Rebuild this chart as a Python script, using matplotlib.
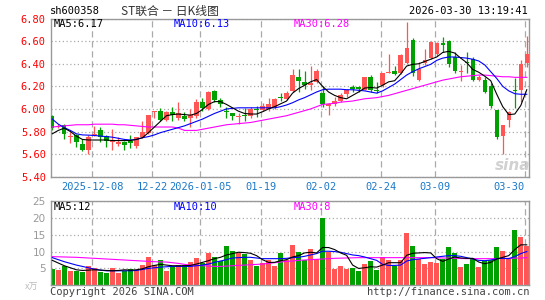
import numpy as np
import matplotlib.pyplot as plt

# precios diarios (ST联合, sh600358)
open_ = [5.94, 5.84, 5.86, 5.75, 5.77, 5.69, 5.64, 5.77, 5.81, 5.76,
         5.71, 5.69, 5.71, 5.72, 5.67, 5.75, 5.79, 5.97, 5.98, 5.90,
         5.97, 5.92, 5.94, 5.92, 5.94, 6.06, 6.00, 6.16, 6.08, 5.98,
         5.96, 5.93, 5.95, 5.94, 6.00, 5.99, 6.00, 6.02, 6.11, 6.09,
         6.16, 6.28, 6.24, 6.21, 6.24, 6.14, 6.03, 6.04, 6.07, 6.13,
         6.19, 6.19, 6.17, 6.28, 6.17, 6.21, 6.32, 6.34, 6.32, 6.41,
         6.61, 6.26, 6.41, 6.45, 6.49, 6.58, 6.60, 6.46, 6.33, 6.42,
         6.44, 6.26, 6.26, 6.20, 5.99, 5.76, 5.90, 6.17, 6.17, 6.41]
high = [5.95, 5.87, 5.87, 5.80, 5.78, 5.73, 5.77, 5.85, 5.84, 5.77,
        5.82, 5.75, 5.72, 5.77, 5.75, 5.89, 5.95, 5.98, 6.01, 5.98,
        6.02, 6.06, 5.97, 6.00, 6.09, 6.10, 6.16, 6.17, 6.10, 6.02,
        5.96, 5.96, 6.01, 6.02, 6.03, 6.05, 6.10, 6.10, 6.14, 6.16,
        6.35, 6.35, 6.34, 6.38, 6.35, 6.20, 6.05, 6.11, 6.14, 6.18,
        6.21, 6.20, 6.28, 6.30, 6.24, 6.32, 6.49, 6.38, 6.49, 6.77,
        6.63, 6.42, 6.53, 6.60, 6.59, 6.64, 6.61, 6.50, 6.39, 6.50,
        6.46, 6.30, 6.28, 6.23, 5.99, 5.86, 5.98, 6.27, 6.43, 6.65]
low = [5.81, 5.83, 5.73, 5.70, 5.66, 5.63, 5.60, 5.76, 5.71, 5.66,
       5.64, 5.67, 5.64, 5.65, 5.65, 5.74, 5.78, 5.92, 5.89, 5.89,
       5.89, 5.90, 5.89, 5.84, 5.92, 5.98, 5.99, 6.06, 6.02, 5.92,
       5.90, 5.87, 5.89, 5.92, 5.93, 5.98, 5.98, 6.00, 6.07, 6.08,
       6.15, 6.15, 6.18, 6.17, 6.23, 6.02, 5.95, 6.03, 6.06, 6.11,
       6.15, 6.15, 6.17, 6.15, 6.14, 6.19, 6.32, 6.30, 6.31, 6.40,
       6.29, 6.25, 6.39, 6.44, 6.47, 6.50, 6.37, 6.32, 6.25, 6.32,
       6.25, 6.25, 6.14, 6.01, 5.73, 5.60, 5.84, 6.01, 6.06, 6.37]
close = [5.83, 5.85, 5.78, 5.76, 5.71, 5.64, 5.75, 5.78, 5.75, 5.72,
         5.72, 5.71, 5.68, 5.70, 5.75, 5.80, 5.95, 5.98, 5.90, 5.97,
         5.95, 5.96, 5.91, 5.95, 6.06, 6.01, 6.15, 6.08, 6.04, 5.97,
         5.94, 5.94, 5.94, 6.00, 5.99, 6.03, 6.04, 6.09, 6.10, 6.14,
         6.30, 6.25, 6.21, 6.23, 6.34, 6.04, 6.04, 6.07, 6.12, 6.17,
         6.18, 6.18, 6.28, 6.17, 6.16, 6.32, 6.33, 6.31, 6.48, 6.54,
         6.32, 6.35, 6.43, 6.59, 6.58, 6.57, 6.40, 6.34, 6.34, 6.41,
         6.26, 6.28, 6.15, 6.03, 5.75, 5.86, 5.97, 6.16, 6.40, 6.49]

ma5 = [5.78, 5.81, 5.83, 5.80, 5.76, 5.73, 5.725, 5.725, 5.725, 5.725,
       5.72, 5.72, 5.72, 5.72, 5.73, 5.745, 5.79, 5.84, 5.89, 5.94,
       5.95, 5.955, 5.95, 5.945, 5.96, 5.995, 6.04, 6.065, 6.065, 6.04,
       6.01, 5.98, 5.96, 5.955, 5.955, 5.975, 6.00, 6.02, 6.045, 6.07,
       6.14, 6.18, 6.21, 6.24, 6.26, 6.20, 6.15, 6.12, 6.10, 6.09,
       6.12, 6.15, 6.185, 6.19, 6.185, 6.21, 6.24, 6.25, 6.31, 6.38,
       6.395, 6.40, 6.42, 6.44, 6.46, 6.50, 6.51, 6.495, 6.45, 6.41,
       6.35, 6.325, 6.29, 6.25, 6.13, 6.02, 5.95, 5.955, 6.03, 6.17]
ma10 = [5.91, 5.865, 5.835, 5.81, 5.78, 5.77, 5.768, 5.765, 5.76, 5.755,
        5.75, 5.74, 5.73, 5.725, 5.73, 5.745, 5.755, 5.77, 5.79, 5.805,
        5.82, 5.835, 5.85, 5.87, 5.89, 5.91, 5.935, 5.96, 5.98, 6.00,
        6.005, 6.01, 6.01, 6.01, 6.01, 6.01, 6.01, 6.01, 6.02, 6.035,
        6.055, 6.08, 6.10, 6.125, 6.15, 6.17, 6.175, 6.175, 6.175, 6.17,
        6.17, 6.165, 6.16, 6.15, 6.14, 6.16, 6.19, 6.22, 6.26, 6.30,
        6.33, 6.355, 6.375, 6.395, 6.43, 6.45, 6.46, 6.46, 6.455, 6.45,
        6.44, 6.425, 6.39, 6.33, 6.27, 6.20, 6.16, 6.135, 6.13, 6.13]
ma30 = [5.84, 5.845, 5.85, 5.855, 5.86, 5.86, 5.86, 5.865, 5.865, 5.865,
        5.865, 5.86, 5.86, 5.855, 5.85, 5.845, 5.84, 5.84, 5.84, 5.84,
        5.84, 5.83, 5.81, 5.81, 5.81, 5.82, 5.83, 5.84, 5.85, 5.86,
        5.865, 5.87, 5.875, 5.88, 5.89, 5.90, 5.91, 5.92, 5.93, 5.94,
        5.955, 5.97, 5.985, 6.00, 6.02, 6.04, 6.045, 6.05, 6.06, 6.065,
        6.07, 6.08, 6.09, 6.095, 6.10, 6.11, 6.12, 6.135, 6.15, 6.165,
        6.18, 6.195, 6.21, 6.225, 6.24, 6.255, 6.265, 6.275, 6.285, 6.29,
        6.295, 6.30, 6.30, 6.295, 6.29, 6.285, 6.285, 6.28, 6.28, 6.28]

# volumen (x万)
vol = [4.8, 4.5, 5.7, 4.2, 4.3, 4.0, 5.6, 5.0, 4.0, 3.7,
       5.2, 3.5, 4.3, 4.7, 4.5, 5.9, 8.3, 6.0, 7.4, 4.2,
       5.3, 6.0, 5.9, 6.9, 8.0, 6.5, 9.5, 8.3, 7.3, 11.8,
       10.1, 9.7, 9.2, 7.4, 5.6, 6.5, 7.4, 5.6, 9.5, 7.4,
       12.0, 9.8, 7.4, 10.9, 7.9, 20.0, 10.0, 4.9, 5.6, 4.8,
       5.0, 4.3, 6.2, 7.1, 4.5, 8.5, 7.4, 5.8, 7.4, 15.4,
       11.7, 7.9, 6.2, 6.8, 6.6, 7.7, 11.5, 9.5, 5.4, 6.2,
       7.7, 5.4, 7.1, 7.4, 11.3, 10.3, 7.7, 16.4, 14.2, 11.7]
vma5 = [7.4, 6.6, 5.8, 5.2, 4.6, 4.4, 4.5, 4.6, 4.5, 4.4,
        4.3, 4.4, 4.6, 4.5, 4.6, 4.9, 5.5, 5.9, 6.2, 6.0,
        5.8, 5.8, 5.8, 5.9, 6.3, 6.8, 7.3, 7.9, 8.3, 9.0,
        9.4, 9.8, 9.7, 9.5, 8.8, 7.6, 6.8, 6.8, 7.3, 7.6,
        8.4, 8.8, 9.6, 9.8, 9.6, 11.2, 11.2, 10.6, 9.6, 8.9,
        6.0, 5.0, 5.2, 5.5, 5.4, 6.0, 6.7, 6.7, 6.7, 8.9,
        9.5, 9.6, 9.7, 9.6, 7.9, 7.1, 7.8, 8.4, 8.1, 8.0,
        8.0, 6.9, 6.4, 6.8, 7.8, 8.3, 8.8, 10.6, 12.0, 12.0]
vma10 = [8.2, 7.6, 7.0, 6.5, 6.0, 5.6, 5.2, 4.8, 4.5, 4.3,
         4.3, 4.3, 4.3, 4.3, 4.4, 4.7, 5.0, 5.2, 5.4, 5.5,
         5.6, 5.6, 5.6, 5.6, 5.8, 6.0, 6.3, 6.8, 7.2, 7.6,
         8.1, 8.2, 8.3, 8.3, 8.1, 7.9, 7.9, 7.9, 7.9, 8.0,
         8.2, 8.3, 8.6, 9.0, 9.4, 10.1, 10.1, 10.0, 9.8, 9.4,
         9.0, 8.8, 8.4, 7.9, 7.4, 6.2, 5.9, 5.9, 6.0, 7.2,
         7.6, 7.8, 8.0, 8.2, 8.4, 8.6, 8.8, 8.8, 8.6, 8.2,
         7.8, 7.4, 7.3, 7.5, 7.9, 8.0, 7.9, 8.5, 9.4, 10.0]
vma30 = [8.5, 8.45, 8.4, 8.35, 8.3, 8.2, 8.1, 8.0, 7.9, 7.8,
         7.7, 7.6, 7.5, 7.4, 7.3, 7.2, 7.1, 7.0, 6.95, 6.9,
         6.7, 6.5, 6.2, 6.0, 5.9, 5.8, 5.7, 5.6, 5.6, 5.7,
         5.8, 5.9, 6.0, 6.1, 6.2, 6.3, 6.5, 6.7, 6.9, 7.1,
         7.2, 7.4, 7.5, 7.6, 7.7, 7.8, 7.9, 8.0, 8.05, 8.1,
         8.15, 8.2, 8.2, 8.2, 8.2, 8.2, 8.2, 8.2, 8.2, 8.2,
         8.2, 8.2, 8.2, 8.2, 8.15, 8.1, 8.05, 8.0, 7.95, 7.9,
         7.9, 7.9, 7.9, 7.9, 7.9, 7.95, 8.0, 8.05, 8.1, 8.2]

tick_idx = [7, 17, 25, 35, 45, 55, 64, 79]
tick_lbl = ['2025-12-08', '12-22', '2026-01-05', '01-19',
            '02-02', '02-24', '03-09', '03-30']

RED = '#ff5555'
GREEN = '#00a000'
GRID = '#aaaaaa'
MONO = 'DejaVu Sans Mono'
W, H = 545, 300

x = np.arange(len(close))
o = np.array(open_)
c = np.array(close)
up = c >= o
colors = [RED if u else GREEN for u in up]

fig = plt.figure(figsize=(W / 100, H / 100), dpi=100)
ax = fig.add_axes([50.7 / W, 1 - 176.7 / H, 478.6 / W, 158.1 / H])
axv = fig.add_axes([50.7 / W, 1 - 285.3 / H, 478.6 / W, 84.3 / H])

for a in (ax, axv):
    a.set_xlim(-0.27, 79.42)
    a.set_xticks(np.array(tick_idx) - 0.33)
    a.tick_params(length=0)
    a.xaxis.grid(True, linestyle=(0, (5, 3)), color=GRID, lw=0.9)
    a.yaxis.grid(True, linestyle=(0, (1, 2)), color=GRID, lw=0.9)
    a.set_axisbelow(True)
    for s in a.spines.values():
        s.set_color('#999999')
        s.set_linewidth(1.0)

# velas
ax.vlines(x, low, high, colors=colors, lw=0.9, zorder=2)
body = np.maximum(np.abs(c - o), 0.006)
ax.bar(x, body, bottom=np.minimum(o, c), width=0.72, color=colors, lw=0, zorder=3)
ax.plot(x, ma30, color='#ff00ff', lw=0.8, zorder=4)
ax.plot(x, ma10, color='#0000ff', lw=0.8, zorder=4)
ax.plot(x, ma5, color='black', lw=0.8, zorder=4)

ax.set_ylim(5.40, 6.80)
yt = np.arange(5.40, 6.81, 0.2)
ax.set_yticks(yt)
ax.set_yticklabels(['%.2f' % v for v in yt], color='#ff0000', family=MONO, fontsize=7.5)
ax.set_xticklabels(tick_lbl, color='#1a78c8', family=MONO, fontsize=7.5)
ax.get_xticklabels()[-1].set_ha('right')
ax.tick_params(axis='x', pad=4)

# volumen
axv.bar(x, vol, width=0.85, color=colors, lw=0, zorder=2)
axv.plot(x, vma30, color='#ff00ff', lw=0.8, zorder=3)
axv.plot(x, vma10, color='#0000ff', lw=0.8, zorder=3)
axv.plot(x, vma5, color='black', lw=0.8, zorder=3)
axv.set_ylim(0, 25)
axv.set_yticks([5, 10, 15, 20, 25])
axv.set_yticklabels(['5', '10', '15', '20', '25'], color='#999999', fontsize=7.5)
axv.set_xticklabels([])


def ftext(px, py, s, **kw):
    fig.text(px / W, 1 - py / H, s, **kw)


ftext(50, 11, 'sh600358', family=MONO, fontsize=7.5, va='center')
ftext(170, 11, 'ST联合 － 日K线图', family=['Noto Sans CJK SC', 'DejaVu Sans'],
      fontsize=8.5, color='#333333', va='center', ha='center')
ftext(528, 11, '2026-03-30 13:19:41', family=MONO, fontsize=7.5, va='center', ha='right')

ftext(54, 24, 'MA5:6.17', family=MONO, fontsize=7.5, va='center', color='black')
ftext(174, 24, 'MA10:6.13', family=MONO, fontsize=7.5, va='center', color='#0000ff')
ftext(294, 24, 'MA30:6.28', family=MONO, fontsize=7.5, va='center', color='#ff00ff')

ftext(54, 206.5, 'MA5:12', family=MONO, fontsize=7.5, va='center', color='black')
ftext(174, 206.5, 'MA10:10', family=MONO, fontsize=7.5, va='center', color='#0000ff')
ftext(294, 206.5, 'MA30:8', family=MONO, fontsize=7.5, va='center', color='#ff00ff')

ftext(32, 287, 'x万', family=['Noto Sans CJK SC', 'DejaVu Sans'], fontsize=6.5,
      color='#bbbbbb', va='center', ha='center', style='italic')
ftext(50, 292, 'Copyright 2026 SINA.COM', family=MONO, fontsize=7.5, va='center', color='#444444')
ftext(529, 292, 'http://finance.sina.com.cn', family=MONO, fontsize=7.5, va='center',
      ha='right', color='#444444')

# marca de agua
ftext(513, 165, 'sina', fontsize=11, fontweight='bold', style='italic', color='#cccccc',
      va='center', ha='center', alpha=0.9)

fig.savefig('out.png', dpi=100)
